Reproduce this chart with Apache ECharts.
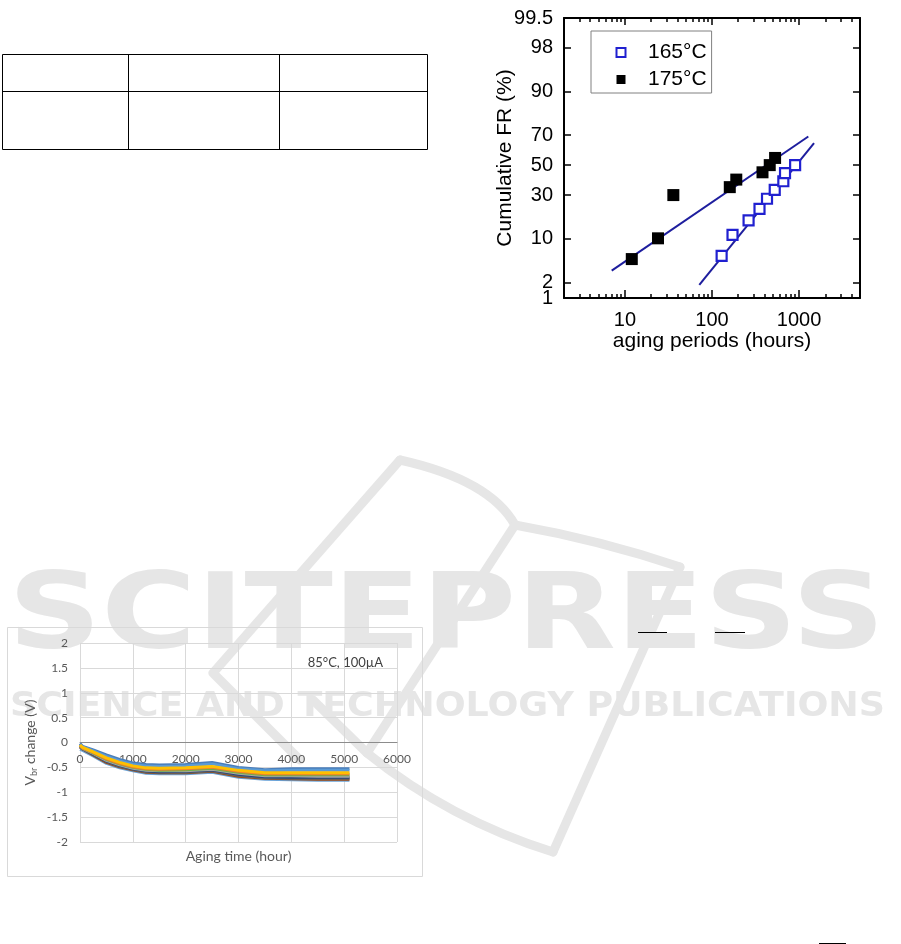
<!DOCTYPE html>
<html><head><meta charset="utf-8">
<script src="https://cdn.jsdelivr.net/npm/echarts@6/dist/echarts.min.js"></script>
<style>html,body{margin:0;padding:0;background:#fff}#c{width:901px;height:944px}</style>
</head><body><div id="c"></div>
<script>
// ---------- Chart A: cumulative failure rate vs aging period (lognormal probability plot)
const hours165 = [129, 172, 263, 351, 428, 525, 659, 689, 900];
const fr165    = [5.6, 11.1, 16.7, 22.2, 27.8, 33.3, 38.9, 44.4, 50.0];
const hours175 = [12, 24, 36, 160, 190, 380, 460, 530];
const fr175    = [5, 10, 30, 35, 40, 45, 50, 55];
const fitHours165 = [71.5, 1483];
const fitFr165    = [1.8, 65.0];
const fitHours175 = [7.06, 1276];
const fitFr175    = [3.24, 69.2];
const frTicks = [1, 2, 10, 30, 50, 70, 90, 98, 99.5];
const hourTicksMajor = [10, 100, 1000];
const hourTicksMinor = [3, 4, 5, 6, 7, 8, 9, 20, 30, 40, 50, 60, 70, 80, 90, 200, 300, 400, 500, 600, 700, 800, 900, 2000, 3000, 4000];
const hourRange = [2, 5000];

// ---------- Chart B: Vbr change vs aging time (85°C, 100µA)
const agingTime = [0, 50, 250, 500, 750, 1000, 1250, 1500, 2000, 2500, 3000, 3500, 4000, 4500, 5100];
const vbrA = [-0.02, -0.08, -0.15, -0.25, -0.34, -0.41, -0.44, -0.45, -0.44, -0.40, -0.50, -0.55, -0.53, -0.53, -0.53];
const vbrB = [-0.04, -0.09, -0.17, -0.28, -0.37, -0.44, -0.47, -0.48, -0.47, -0.43, -0.53, -0.57, -0.56, -0.56, -0.56];
const vbrC = [-0.05, -0.10, -0.19, -0.31, -0.40, -0.47, -0.51, -0.52, -0.51, -0.48, -0.56, -0.61, -0.61, -0.61, -0.61];
const vbrD = [-0.06, -0.11, -0.20, -0.33, -0.42, -0.49, -0.53, -0.54, -0.53, -0.50, -0.58, -0.63, -0.63, -0.63, -0.63];
const vbrE = [-0.06, -0.11, -0.21, -0.34, -0.43, -0.50, -0.54, -0.56, -0.55, -0.52, -0.60, -0.65, -0.65, -0.65, -0.65];
const vbrF = [-0.07, -0.12, -0.22, -0.36, -0.45, -0.52, -0.56, -0.57, -0.57, -0.54, -0.62, -0.67, -0.67, -0.68, -0.68];
const vbrG = [-0.08, -0.12, -0.23, -0.37, -0.46, -0.53, -0.57, -0.59, -0.58, -0.55, -0.64, -0.69, -0.70, -0.70, -0.70];
const vbrH = [-0.08, -0.13, -0.24, -0.38, -0.48, -0.54, -0.59, -0.60, -0.60, -0.57, -0.66, -0.71, -0.72, -0.72, -0.72];
const vbrI = [-0.09, -0.13, -0.25, -0.40, -0.49, -0.55, -0.60, -0.61, -0.61, -0.58, -0.68, -0.72, -0.73, -0.74, -0.74];
const vbrJ = [-0.14, -0.16, -0.27, -0.42, -0.51, -0.57, -0.62, -0.63, -0.63, -0.60, -0.70, -0.74, -0.75, -0.76, -0.76];

// ---------- helpers (scale transforms)
function probit(p) {
  const a=[-3.969683028665376e+01,2.209460984245205e+02,-2.759285104469687e+02,1.383577518672690e+02,-3.066479806614716e+01,2.506628277459239e+00];
  const b=[-5.447609879822406e+01,1.615858368580409e+02,-1.556989798598866e+02,6.680131188771972e+01,-1.328068155288572e+01];
  const c=[-7.784894002430293e-03,-3.223964580411365e-01,-2.400758277161838e+00,-2.549732539343734e+00,4.374664141464968e+00,2.938163982698783e+00];
  const d=[7.784695709041462e-03,3.224671290700398e-01,2.445134137142996e+00,3.754408661907416e+00];
  const pl=0.02425, ph=1-pl; let q, r;
  if (p < pl) { q=Math.sqrt(-2*Math.log(p)); return (((((c[0]*q+c[1])*q+c[2])*q+c[3])*q+c[4])*q+c[5])/((((d[0]*q+d[1])*q+d[2])*q+d[3])*q+1); }
  if (p <= ph) { q=p-0.5; r=q*q; return (((((a[0]*r+a[1])*r+a[2])*r+a[3])*r+a[4])*r+a[5])*q/(((((b[0]*r+b[1])*r+b[2])*r+b[3])*r+b[4])*r+1); }
  q=Math.sqrt(-2*Math.log(1-p)); return -(((((c[0]*q+c[1])*q+c[2])*q+c[3])*q+c[4])*q+c[5])/((((d[0]*q+d[1])*q+d[2])*q+d[3])*q+1);
}
const L = v => Math.log10(v);
const Z = pct => probit(pct / 100);
const zTicks = frTicks.map(Z);
const xMajor = hourTicksMajor.map(L);
const xMinor = hourTicksMinor.map(L);
const pairsA = (hs, fs) => hs.map((h, i) => [L(h), Z(fs[i])]);
const pairsB = arr => agingTime.map((t, i) => [t, arr[i]]);
const frLabel = v => {
  let best = 0;
  zTicks.forEach((z, i) => { if (Math.abs(z - v) < Math.abs(zTicks[best] - v)) best = i; });
  return String(frTicks[best]);
};

function fitScale(text, font, target) {
  const ctx = document.createElement('canvas').getContext('2d');
  ctx.font = font;
  return target / ctx.measureText(text).width;
}

const FA = 'Liberation Sans';
const FB = 'Lato';
const black = '#000';
const wm = '#e6e6e6';
const bigFont = 'bold 106px "DejaVu Sans"';
const subFont = 'bold 34px "DejaVu Sans"';
const wmBig = 'SCITEPRESS';
const wmSub = 'SCIENCE AND TECHNOLOGY PUBLICATIONS';

const chart = echarts.init(document.getElementById('c'), null, {renderer: 'canvas'});

const baseA = {
  gridIndex: 0, type: 'value', min: L(hourRange[0]), max: L(hourRange[1]),
  splitLine: {show: false}, nameMoveOverlap: false
};
const yBaseA = {
  gridIndex: 0, type: 'value', min: Z(frTicks[0]), max: Z(frTicks[frTicks.length - 1]),
  splitLine: {show: false}, nameMoveOverlap: false
};
const yLabelStyle = {show: true, margin: 11, fontSize: 20, fontFamily: FA, color: black,
  showMinLabel: true, showMaxLabel: true, hideOverlap: false, formatter: frLabel};

const vbrSeries = [
  ['A', vbrA, '#4a7ebb'], ['J', vbrJ, '#6aa3d8'], ['B', vbrB, '#5b9bd5'],
  ['I', vbrI, '#9e480e'], ['H', vbrH, '#636363'], ['G', vbrG, '#264478'],
  ['F', vbrF, '#a5a5a5'], ['E', vbrE, '#70ad47'], ['D', vbrD, '#ed7d31'],
  ['C', vbrC, '#ffc000']
].map(([n, arr, col]) => ({
  name: 'Device ' + n, type: 'line', xAxisIndex: 4, yAxisIndex: 2,
  data: pairsB(arr), showSymbol: false, symbol: 'none',
  lineStyle: {color: col, width: 3}, itemStyle: {color: col}, z: 2
}));

const wmStroke = {fill: 'none', stroke: wm, lineWidth: 9, lineCap: 'round', lineJoin: 'round'};
function wmCurve(x1, y1, cx, cy, x2, y2) {
  return {type: 'bezierCurve', z: -10, silent: true, shape: {x1: x1, y1: y1, cpx1: cx, cpy1: cy, x2: x2, y2: y2}, style: wmStroke};
}
function wmLine(points) {
  return {type: 'polyline', z: -10, silent: true, shape: {points: points}, style: wmStroke};
}
function blackLine(points) {
  return {type: 'polyline', z: 10, silent: true, shape: {points: points}, style: {stroke: black, lineWidth: 1}};
}

const option = {
  animation: false,
  backgroundColor: '#fff',
  grid: [
    {left: 564, top: 18, width: 296, height: 280, containLabel: false, outerBoundsMode: 'none'},
    {left: 80, top: 643, width: 317, height: 199, containLabel: false, outerBoundsMode: 'none'}
  ],
  legend: {
    data: ['165°C', '175°C'], orient: 'vertical', left: 591, top: 31,
    padding: [11, 5, 3, 24.5], itemWidth: 9, itemHeight: 9, itemGap: 6,
    borderColor: '#808080', borderWidth: 1, selectedMode: false,
    textStyle: {fontSize: 21, fontFamily: FA, color: black, padding: [0, 0, 0, 17.5]}
  },
  xAxis: [
    Object.assign({}, baseA, {
      position: 'bottom',
      axisLine: {show: true, onZero: false, lineStyle: {color: black, width: 2}},
      axisTick: {show: true, inside: true, length: 8, customValues: xMajor, lineStyle: {color: black, width: 1.5}},
      axisLabel: {show: true, customValues: xMajor, margin: 12, fontSize: 20, fontFamily: FA, color: black,
        showMinLabel: true, showMaxLabel: true, hideOverlap: false,
        formatter: v => String(Math.round(Math.pow(10, v)))},
      name: 'aging periods (hours)', nameLocation: 'middle', nameGap: 33,
      nameTextStyle: {fontSize: 21, fontFamily: FA, color: black}
    }),
    Object.assign({}, baseA, {
      position: 'bottom',
      axisLine: {show: false, onZero: false},
      axisTick: {show: true, inside: true, length: 4, customValues: xMinor, lineStyle: {color: black, width: 1.5}},
      axisLabel: {show: false}
    }),
    Object.assign({}, baseA, {
      position: 'top',
      axisLine: {show: true, onZero: false, lineStyle: {color: black, width: 2}},
      axisTick: {show: true, inside: true, length: 7, customValues: xMajor, lineStyle: {color: black, width: 1.5}},
      axisLabel: {show: false}
    }),
    Object.assign({}, baseA, {
      position: 'top',
      axisLine: {show: false, onZero: false},
      axisTick: {show: true, inside: true, length: 4, customValues: xMinor, lineStyle: {color: black, width: 1.5}},
      axisLabel: {show: false}
    }),
    {
      gridIndex: 1, type: 'value', min: 0, max: 6000, interval: 1000, nameMoveOverlap: false,
      position: 'bottom', offset: -99.5,
      axisLine: {show: true, onZero: false, lineStyle: {color: '#8c8c8c', width: 1}},
      axisTick: {show: false},
      axisLabel: {margin: 11, fontSize: 12, fontFamily: FB, color: '#595959', formatter: v => String(v)},
      splitLine: {show: true, lineStyle: {color: '#d9d9d9', width: 1}},
      name: 'Aging time (hour)', nameLocation: 'middle', nameGap: 107,
      nameTextStyle: {fontSize: 14, fontFamily: FB, color: '#595959'}
    }
  ],
  yAxis: [
    Object.assign({}, yBaseA, {
      position: 'left',
      axisLine: {show: true, onZero: false, lineStyle: {color: black, width: 2}},
      axisTick: {show: true, inside: true, length: 7, customValues: zTicks, lineStyle: {color: black, width: 1.5}},
      axisLabel: Object.assign({customValues: zTicks.slice(1)}, yLabelStyle),
      name: 'Cumulative FR (%)', nameLocation: 'middle', nameGap: 48,
      nameTextStyle: {fontSize: 21, fontFamily: FA, color: black}
    }),
    Object.assign({}, yBaseA, {
      position: 'right',
      axisLine: {show: true, onZero: false, lineStyle: {color: black, width: 2}},
      axisTick: {show: true, inside: true, length: 7, customValues: zTicks, lineStyle: {color: black, width: 1.5}},
      axisLabel: {show: false}
    }),
    {
      gridIndex: 1, type: 'value', min: -2, max: 2, interval: 0.5, nameMoveOverlap: false,
      axisLine: {show: false, onZero: false}, axisTick: {show: false},
      axisLabel: {margin: 12, fontSize: 12, fontFamily: FB, color: '#595959'},
      splitLine: {show: true, lineStyle: {color: '#d9d9d9', width: 1}},
      name: '{v|V}{s|br}{v| change (V)}', nameLocation: 'middle', nameGap: 41,
      nameTextStyle: {
        color: '#595959', fontFamily: FB, fontSize: 14,
        rich: {
          v: {fontSize: 14, fontFamily: FB, color: '#595959', lineHeight: 18, verticalAlign: 'middle'},
          s: {fontSize: 9, fontFamily: FB, color: '#595959', lineHeight: 10, verticalAlign: 'bottom'}
        }
      }
    },
    // second left axis carrying only the bottom "1" label (keeps it from hiding the "2")
    Object.assign({}, yBaseA, {
      position: 'left',
      axisLine: {show: false, onZero: false},
      axisTick: {show: false},
      axisLabel: Object.assign({customValues: [zTicks[0]]}, yLabelStyle)
    })
  ],
  series: [
    {name: 'fit 165°C', type: 'line', xAxisIndex: 0, yAxisIndex: 0, data: pairsA(fitHours165, fitFr165),
      showSymbol: false, symbol: 'none', lineStyle: {color: '#1e1e9e', width: 2}, z: 2},
    {name: 'fit 175°C', type: 'line', xAxisIndex: 0, yAxisIndex: 0, data: pairsA(fitHours175, fitFr175),
      showSymbol: false, symbol: 'none', lineStyle: {color: '#1e1e9e', width: 2}, z: 2},
    {name: '165°C', type: 'scatter', xAxisIndex: 0, yAxisIndex: 0, data: pairsA(hours165, fr165),
      symbol: 'rect', symbolSize: 10, itemStyle: {color: '#fff', borderColor: '#2020d0', borderWidth: 2.2, opacity: 1}, z: 3},
    {name: '175°C', type: 'scatter', xAxisIndex: 0, yAxisIndex: 0, data: pairsA(hours175, fr175),
      symbol: 'rect', symbolSize: 12, itemStyle: {color: '#000', opacity: 1}, z: 3}
  ].concat(vbrSeries),
  graphic: [
    // watermark logo (behind everything)
    wmCurve(400, 460, 490, 480, 515, 525),
    wmCurve(515, 525, 600, 540, 680, 567),
    wmLine([[680, 567], [553, 852]]),
    wmCurve(553, 852, 450, 820, 367, 753),
    wmLine([[367, 753], [313, 700]]),
    wmLine([[400, 460], [213, 673], [300, 760]]),
    wmLine([[515, 525], [367, 753]]),
    {type: 'text', z: -9, silent: true, x: 8, y: 620, scaleX: fitScale(wmBig, bigFont, 877),
      style: {text: wmBig, font: bigFont, fill: wm, align: 'left', verticalAlign: 'middle'}},
    {type: 'text', z: -9, silent: true, x: 10, y: 707, scaleX: fitScale(wmSub, subFont, 875),
      style: {text: wmSub, font: subFont, fill: wm, align: 'left', verticalAlign: 'middle'}},
    // table outline (top-left)
    blackLine([[2.5, 54.5], [427.5, 54.5]]),
    blackLine([[2.5, 91.5], [427.5, 91.5]]),
    blackLine([[2.5, 149.5], [427.5, 149.5]]),
    blackLine([[2.5, 54.5], [2.5, 149.5]]),
    blackLine([[128.5, 54.5], [128.5, 149.5]]),
    blackLine([[279.5, 54.5], [279.5, 149.5]]),
    blackLine([[427.5, 54.5], [427.5, 149.5]]),
    // fraction bars of the surrounding text
    blackLine([[638, 632.5], [667, 632.5]]),
    blackLine([[715, 632.5], [745, 632.5]]),
    blackLine([[819, 943.5], [846, 943.5]]),
    // Excel chart frame and annotation (bottom-left)
    {type: 'rect', z: 1, silent: true, shape: {x: 7.5, y: 627.5, width: 415, height: 249},
      style: {fill: 'none', stroke: '#d9d9d9', lineWidth: 1}},
    {type: 'text', z: 5, silent: true, x: 383, y: 663,
      style: {text: '85°C, 100µA', font: '13px Lato', fill: '#404040', align: 'right', verticalAlign: 'middle'}}
  ]
};
chart.setOption(option);
</script>
</body></html>
